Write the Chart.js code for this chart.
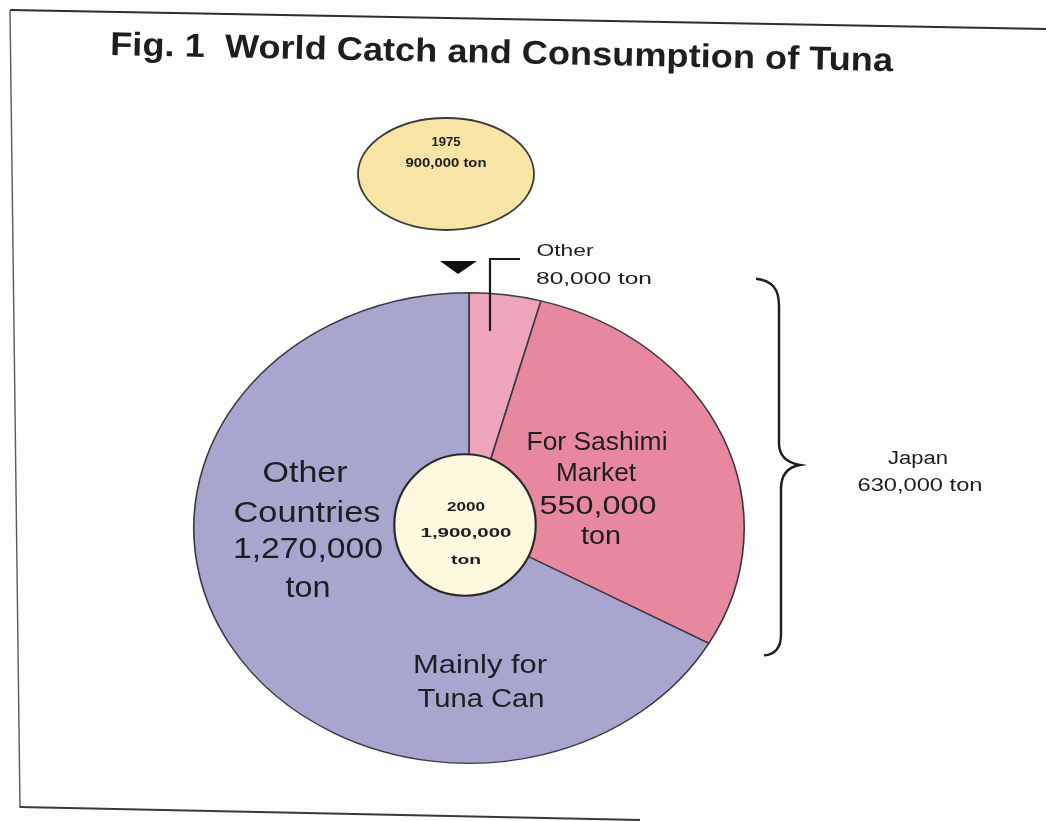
<!DOCTYPE html>
<html>
<head>
<meta charset="utf-8">
<title>World Catch and Consumption of Tuna</title>
<script src="https://cdn.jsdelivr.net/npm/chart.js@4.4.1/dist/chart.umd.min.js"></script>
<style>
  html, body { margin: 0; padding: 0; background: #fdfdfc; }
  #wrap { width: 1046px; height: 821px; position: relative; }
  canvas { display: block; }
</style>
</head>
<body>
<div id="wrap"><canvas id="tuna" width="1046" height="821"></canvas></div>
<script>
// ---- data ----
const figureTitle = 'Fig. 1  World Catch and Consumption of Tuna';
const segments = ['Other', 'For Sashimi Market', 'Other Countries'];
const tonnage = [80000, 550000, 1270000];          // year 2000 catch, tons
const japanSlices = [0, 1];                          // slices consumed in Japan
const japanLabel = 'Japan';
const catchYears = ['1975', '2000'];
const catch1975 = 900000;
const tunaCanNote = ['Mainly for', 'Tuna Can'];
const unit = 'ton';

const fmt = v => v.toLocaleString('en-US');
const catch2000 = tonnage.reduce((a, b) => a + b, 0);
const japanTotal = japanSlices.reduce((a, i) => a + tonnage[i], 0);

// vertical squash of the pie (drawn as an ellipse)
const SQUASH = 0.855;
const FONT = '"Liberation Sans", Arial, Helvetica, sans-serif';
const INK = '#1d1d22';

// text drawn centred at x on a baseline, stretched horizontally to a given width
function label(ctx, s, x, base, size, width, bold) {
  ctx.save();
  ctx.font = (bold ? 'bold ' : '') + size + 'px ' + FONT;
  const m = ctx.measureText(s).width;
  ctx.translate(x, base);
  ctx.scale(width / m, 1);
  ctx.textAlign = 'center';
  ctx.textBaseline = 'alphabetic';
  ctx.fillStyle = INK;
  ctx.fillText(s, 0, 0);
  ctx.restore();
}

const ellipsePie = {
  id: 'ellipsePie',
  beforeDraw(chart) {
    const ctx = chart.ctx;
    ctx.save();
    ctx.fillStyle = '#fdfdfc';
    ctx.fillRect(0, 0, chart.width, chart.height);
    // page frame
    ctx.strokeStyle = '#2e2e2e';
    ctx.lineWidth = 2;
    ctx.beginPath();
    ctx.moveTo(10, 10); ctx.lineTo(1046, 29);
    ctx.stroke();
    ctx.lineWidth = 1.4;
    ctx.strokeStyle = '#5a5a5a';
    ctx.beginPath();
    ctx.moveTo(10, 10); ctx.lineTo(20, 808);
    ctx.stroke();
    ctx.lineWidth = 2;
    ctx.strokeStyle = '#3a3a3a';
    ctx.beginPath();
    ctx.moveTo(20, 807); ctx.lineTo(640, 820);
    ctx.stroke();
    ctx.restore();
  },
  beforeDatasetsDraw(chart) {
    const arc = chart.getDatasetMeta(0).data[0];
    const ctx = chart.ctx;
    ctx.save();
    ctx.translate(arc.x, arc.y);
    ctx.scale(1, SQUASH);
    ctx.translate(-arc.x, -arc.y);
  },
  afterDatasetsDraw(chart) {
    const ctx = chart.ctx;
    ctx.restore();
    const meta = chart.getDatasetMeta(0);
    const a0 = meta.data[0];
    const cx = a0.x, cy = a0.y, R = a0.outerRadius;

    // title, slightly skewed like the printed page
    ctx.save();
    ctx.translate(110, 55);
    ctx.rotate(Math.atan2(16, 780));
    ctx.font = 'bold 33px ' + FONT;
    const tw = ctx.measureText(figureTitle).width;
    ctx.scale(783 / tw, 1);
    ctx.fillStyle = INK;
    ctx.textBaseline = 'alphabetic';
    ctx.fillText(figureTitle, 0, 0);
    ctx.restore();

    // 1975 catch bubble
    ctx.save();
    ctx.beginPath();
    ctx.ellipse(446, 174, 88, 56, 0, 0, Math.PI * 2);
    ctx.fillStyle = '#f8e5a5';
    ctx.fill();
    ctx.lineWidth = 1.8;
    ctx.strokeStyle = '#3a3a3a';
    ctx.stroke();
    ctx.restore();
    label(ctx, catchYears[0], 446, 146, 13, 29, true);
    label(ctx, fmt(catch1975) + ' ' + unit, 446, 167, 12, 81, true);

    // arrow from 1975 down to the 2000 pie
    ctx.save();
    ctx.fillStyle = '#111';
    ctx.beginPath();
    ctx.moveTo(440, 261); ctx.lineTo(477, 261); ctx.lineTo(458, 274);
    ctx.closePath();
    ctx.fill();
    ctx.restore();

    // leader line into the small "Other" slice
    ctx.save();
    ctx.strokeStyle = '#1a1a1a';
    ctx.lineWidth = 2.2;
    ctx.beginPath();
    ctx.moveTo(cx + 51, 259); ctx.lineTo(cx + 21, 259); ctx.lineTo(cx + 21, cy - 197);
    ctx.stroke();
    ctx.restore();
    label(ctx, segments[0], 565, 256, 17, 57, false);
    label(ctx, fmt(tonnage[0]) + ' ' + unit, 594, 284, 17, 116, false);

    // brace spanning the Japan slices
    const endA = meta.data[japanSlices[japanSlices.length - 1]].endAngle;
    const yTop = cy - R * SQUASH - 14;
    const yBot = cy + R * SQUASH * Math.sin(endA) + 12;
    const yMid = (yTop + yBot) / 2 - 2;
    ctx.save();
    ctx.strokeStyle = '#1e1e1e';
    ctx.lineWidth = 2.4;
    ctx.beginPath();
    ctx.moveTo(756, yTop);
    ctx.bezierCurveTo(772, yTop + 2, 779, yTop + 10, 779, yTop + 27);
    ctx.lineTo(779, yMid - 22);
    ctx.bezierCurveTo(779, yMid - 8, 788, yMid - 2, 800, yMid);
    ctx.bezierCurveTo(788, yMid + 2, 781, yMid + 10, 781, yMid + 24);
    ctx.lineTo(781, yBot - 21);
    ctx.bezierCurveTo(781, yBot - 7, 775, yBot - 1, 764, yBot);
    ctx.stroke();
    ctx.restore();
    label(ctx, japanLabel, 918, 464, 18, 60, false);
    label(ctx, fmt(japanTotal) + ' ' + unit, 920, 491, 18, 125, false);

    // 2000 total in the centre
    ctx.save();
    ctx.beginPath();
    ctx.arc(cx - 4, cy - 3, R * 0.257, 0, Math.PI * 2);
    ctx.fillStyle = '#fcf9de';
    ctx.fill();
    ctx.lineWidth = 2.2;
    ctx.strokeStyle = '#2a2a2a';
    ctx.stroke();
    ctx.restore();
    label(ctx, catchYears[1], 466, 511, 13, 38, true);
    label(ctx, fmt(catch2000), 466, 537, 13, 91, true);
    label(ctx, unit, 466, 564, 13, 30, true);

    // slice labels
    label(ctx, 'For Sashimi', 597, 450, 26, 141, false);
    label(ctx, 'Market', 596, 481, 26, 80, false);
    label(ctx, fmt(tonnage[1]), 598, 514, 26, 117, false);
    label(ctx, unit, 601, 544, 26, 40, false);

    label(ctx, 'Other', 305, 482, 29, 85, false);
    label(ctx, 'Countries', 307, 522, 29, 147, false);
    label(ctx, fmt(tonnage[2]), 308, 558, 29, 150, false);
    label(ctx, unit, 308, 597, 29, 45, false);

    label(ctx, tunaCanNote[0], 480, 673, 25, 134, false);
    label(ctx, tunaCanNote[1], 481, 707, 25, 127, false);
  }
};

new Chart(document.getElementById('tuna'), {
  type: 'pie',
  data: {
    labels: segments,
    datasets: [{
      data: tonnage,
      backgroundColor: ['#eea4ba', '#e8889f', '#a8a6cf'],
      borderColor: '#3a3844',
      borderWidth: 1.6,
      hoverOffset: 0
    }]
  },
  options: {
    responsive: false,
    animation: false,
    devicePixelRatio: 1,
    layout: { padding: { left: 193, right: 301, top: 252, bottom: 17 } },
    plugins: {
      legend: { display: false },
      tooltip: { enabled: false },
      title: { display: false }
    },
    events: []
  },
  plugins: [ellipsePie]
});
</script>
</body>
</html>
